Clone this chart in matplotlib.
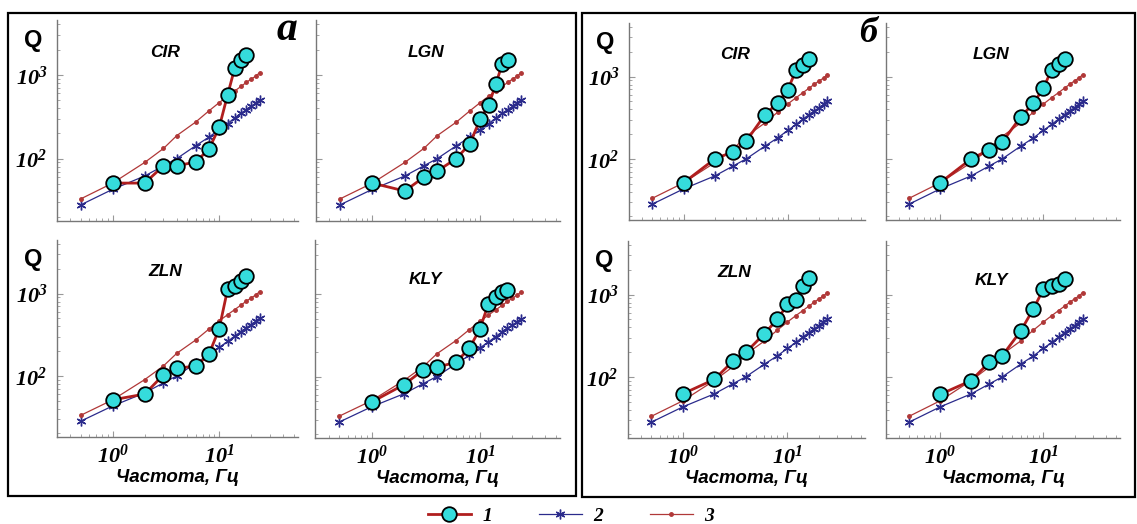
import matplotlib
matplotlib.use('Agg')
import matplotlib.pyplot as plt
from matplotlib.patches import Rectangle
from matplotlib.ticker import LogLocator, NullFormatter

plt.rcParams['mathtext.fontset'] = 'custom'
plt.rcParams['mathtext.rm'] = 'Liberation Serif:bold:italic'
plt.rcParams['mathtext.it'] = 'Liberation Serif:bold:italic'

# model curves (same for every station)
freq_model = [0.5, 1, 2, 3, 4, 6, 8, 10, 12, 14, 16, 18, 20, 22, 24]
q_model2 = [28, 43, 62, 82, 100, 142, 180, 222, 262, 305, 345, 385, 420, 460, 500]
q_model3 = [33, 51, 90, 132, 188, 272, 370, 465, 555, 640, 725, 810, 890, 960, 1060]

stations = ['CIR', 'LGN', 'ZLN', 'KLY']

# observed Q, variant "a"
freq_a = [1, 2, 3, 4, 6, 8, 10, 12, 14, 16, 18]
q_a_cir = [51, 51, 82, 82, 91, 129, 235, 575, 1200, 1490, 1700]
q_a_lgn = [51, 41, 60, 71, 100, 149, 296, 437, 780, 1345, 1520]
q_a_zln = [51, 60, 103, 124, 131, 182, 373, 1130, 1235, 1445, 1630]
q_a_kly = [49, 80, 120, 130, 148, 220, 375, 760, 915, 1050, 1110]

# observed Q, variant "б"
freq_b = [1, 2, 3, 4, 6, 8, 10, 12, 14, 16]
q_b_cir = [51, 100, 122, 165, 340, 481, 694, 1200, 1377, 1620]
q_b_lgn = [51, 100, 129, 160, 321, 475, 726, 1220, 1445, 1640]
q_b_zln = [62, 93, 154, 198, 334, 500, 760, 855, 1290, 1580]
q_b_kly = [61, 90, 151, 181, 358, 672, 1170, 1260, 1360, 1560]

W, H = 1137, 524
fig = plt.figure(figsize=(W / 100, H / 100), dpi=100)


def px_axes(left, top, right, bottom):
    return fig.add_axes([left / W, 1 - bottom / H, (right - left) / W, (bottom - top) / H])


# panel boxes in pixels: left, top, right, bottom
boxes_a = [(57, 20, 298, 221), (316, 20, 560, 221), (57, 240, 298, 437), (315, 240, 560, 438)]
boxes_b = [(629, 23, 865, 220), (886, 23, 1120, 220), (628, 241, 865, 438), (886, 241, 1120, 438)]

serif_bi = dict(family='Liberation Serif', weight='bold', style='italic')
sans_bi = dict(family='Liberation Sans', weight='bold', style='italic')

handles = None
for boxes, freq_obs, obs in [(boxes_a, freq_a, [q_a_cir, q_a_lgn, q_a_zln, q_a_kly]),
                             (boxes_b, freq_b, [q_b_cir, q_b_lgn, q_b_zln, q_b_kly])]:
    for i, (box, name, q_obs) in enumerate(zip(boxes, stations, obs)):
        ax = px_axes(*box)
        l2, = ax.plot(freq_model, q_model2, color='#2b2b8c', lw=0.9,
                      marker=(6, 2, 0), ms=7, mew=1.0)
        l3, = ax.plot(freq_model, q_model3, color='#b03838', lw=0.9,
                      marker='o', ms=2.5)
        l1, = ax.plot(freq_obs, q_obs, color='#b01e1e', lw=2.0, marker='o', ms=10.5,
                      mfc='#35dcdc', mec='black', mew=1.3, zorder=5)
        handles = [l1, l2, l3]

        ax.set_xscale('log')
        ax.set_yscale('log')
        ax.set_xlim(0.3, 55)
        ax.set_ylim(18, 4500)
        for s in ['top', 'right']:
            ax.spines[s].set_visible(False)
        for s in ['left', 'bottom']:
            ax.spines[s].set_color('#777777')
            ax.spines[s].set_linewidth(1.0)

        ax.set_xticks([1, 10])
        ax.set_yticks([100, 1000])
        ax.xaxis.set_minor_locator(LogLocator(base=10, subs=range(2, 10)))
        ax.yaxis.set_minor_locator(LogLocator(base=10, subs=range(2, 10)))
        ax.xaxis.set_minor_formatter(NullFormatter())
        ax.yaxis.set_minor_formatter(NullFormatter())
        ax.tick_params(which='both', colors='#999999', direction='in')
        ax.tick_params(which='major', length=4)
        ax.tick_params(which='minor', length=2.5)
        ax.tick_params(labelcolor='black', labelsize=16)

        row, col = divmod(i, 2)
        if row == 1:
            ax.set_xticklabels([r'$10^{0}$', r'$10^{1}$'])
            ax.tick_params(axis='x', pad=5)
            ax.set_xlabel('Частота, Гц', fontsize=13.5, labelpad=1, **sans_bi)
        else:
            ax.set_xticklabels([])
        if col == 0:
            ax.set_yticklabels([r'$10^{2}$', r'$10^{3}$'])
            ax.tick_params(axis='y', pad=7)
            ax.text(-0.1, 0.9, 'Q', transform=ax.transAxes, ha='center', va='center',
                    fontsize=17, fontweight='heavy', family='Liberation Sans')
        else:
            ax.set_yticklabels([])

        ax.text(0.45, 0.84 if name != 'KLY' else 0.8, name, transform=ax.transAxes,
                ha='center', va='center', fontsize=12.5, **sans_bi)

# outer frames of the two groups
fig.patches.append(Rectangle((8 / W, 1 - 496 / H), 568 / W, 483 / H, transform=fig.transFigure,
                             fill=False, ec='black', lw=1.6))
fig.patches.append(Rectangle((582 / W, 1 - 497 / H), 553 / W, 484 / H, transform=fig.transFigure,
                             fill=False, ec='black', lw=1.6))

fig.text(287 / W, 1 - 30 / H, 'a', ha='center', va='center', fontsize=30, **serif_bi)
fig.text(868 / W, 1 - 34 / H, 'б', ha='center', va='center', fontsize=26, **serif_bi)

fig.legend(handles, ['1', '2', '3'], loc='center', bbox_to_anchor=(571 / W, 1 - 516 / H),
           ncol=3, frameon=False, handlelength=2.2, columnspacing=2.4, handletextpad=0.6,
           prop=dict(family='Liberation Serif', weight='bold', style='italic', size=14))

fig.savefig('out.png', dpi=100)
